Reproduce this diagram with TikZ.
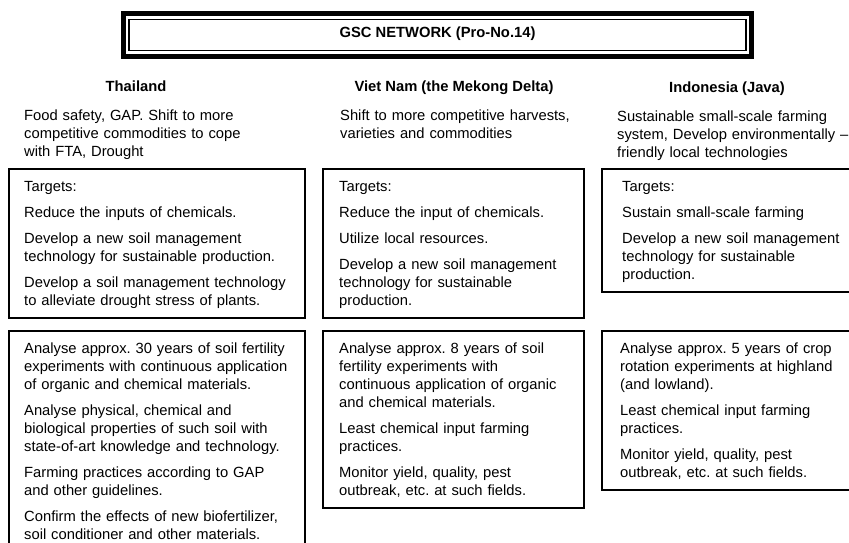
\documentclass[tikz,border=0pt]{standalone}
\usepackage{fontspec}
\setmainfont{Liberation Sans}
\frenchspacing
\definecolor{color0}{HTML}{000000}
\definecolor{bgColor}{HTML}{ffffff}

\begin{document}
\begin{tikzpicture}
\tikzset{x=1pt,y=1pt,
  txt/.style={color=color0, anchor=north west, inner sep=0pt, align=left, text width=#1, font=\fontsize{14.75}{18}\selectfont, execute at begin node=\strut},
  head/.style={color=color0, anchor=base, inner sep=0pt, font=\fontsize{14.75}{18}\selectfont\bfseries},
  frame/.style={line width=1.4pt, color=color0}}
\clip (0,0) rectangle (849, 543);
\fill[bgColor] (0,0) rectangle (849, 543);
\draw[line width=5pt, color=color0] (123.5, 529.5) rectangle (751.5, 486.5);
\draw[line width=1.3pt, color=color0] (129.0, 523.5) rectangle (746.0, 492.5);
\node[head] (title) at (437.5, 505.0) {GSC NETWORK (Pro-No.14)};
\node[head] (thaiHead) at (136.0, 451.0) {Thailand};
\node[head] (vietHead) at (454.0, 451.0) {Viet Nam (the Mekong Delta)};
\node[head] (indoHead) at (727.0, 450.0) {Indonesia (Java)};
\node[txt=280] (thaiNeeds) at (24.0, 435.6) {Food safety, GAP. Shift to more\\competitive commodities to cope\\with FTA, Drought};
\node[txt=250] (vietNeeds) at (340.0, 435.6) {Shift to more competitive harvests,\\varieties and commodities};
\node[txt=240] (indoNeeds) at (617.0, 434.6) {Sustainable small-scale farming\\system, Develop environmentally --\\friendly local technologies};
\draw[frame] (9.0, 374.0) rectangle (305.0, 225.0);
\draw[frame] (323.0, 374.0) rectangle (584.0, 225.0);
\draw[frame] (602.0, 374.0) rectangle (875.0, 251.0);
\node[txt=280] (thaiTargets) at (24.0, 364.6) {Targets:\\[8pt]Reduce the inputs of chemicals.\\[8pt]Develop a new soil management\\technology for sustainable production.\\[8pt]Develop a soil management technology\\to alleviate drought stress of plants.};
\node[txt=250] (vietTargets) at (339.0, 364.6) {Targets:\\[8pt]Reduce the input of chemicals.\\[8pt]Utilize local resources.\\[8pt]Develop a new soil management\\technology for sustainable\\production.};
\node[txt=240] (indoTargets) at (622.0, 364.6) {Targets:\\[8pt]Sustain small-scale farming\\[8pt]Develop a new soil management\\technology for sustainable\\production.};
\draw[frame] (9.0, 212.0) rectangle (305.0, -10.0);
\draw[frame] (323.0, 212.0) rectangle (584.0, 35.0);
\draw[frame] (602.0, 212.0) rectangle (875.0, 53.0);
\node[txt=280] (thaiPlan) at (24.0, 202.6) {Analyse approx. 30 years of soil fertility\\experiments with continuous application\\of organic and chemical materials.\\[8pt]Analyse physical, chemical and\\biological properties of such soil with\\state-of-art knowledge and technology.\\[8pt]Farming practices according to GAP\\and other guidelines.\\[8pt]Confirm the effects of new biofertilizer,\\soil conditioner and other materials.};
\node[txt=250] (vietPlan) at (339.0, 202.6) {Analyse approx. 8 years of soil\\fertility experiments with\\continuous application of organic\\and chemical materials.\\[8pt]Least chemical input farming\\practices.\\[8pt]Monitor yield, quality, pest\\outbreak, etc. at such fields.};
\node[txt=240] (indoPlan) at (620.0, 202.6) {Analyse approx. 5 years of crop\\rotation experiments at highland\\(and lowland).\\[8pt]Least chemical input farming\\practices.\\[8pt]Monitor yield, quality, pest\\outbreak, etc. at such fields.};
\end{tikzpicture}
\end{document}
